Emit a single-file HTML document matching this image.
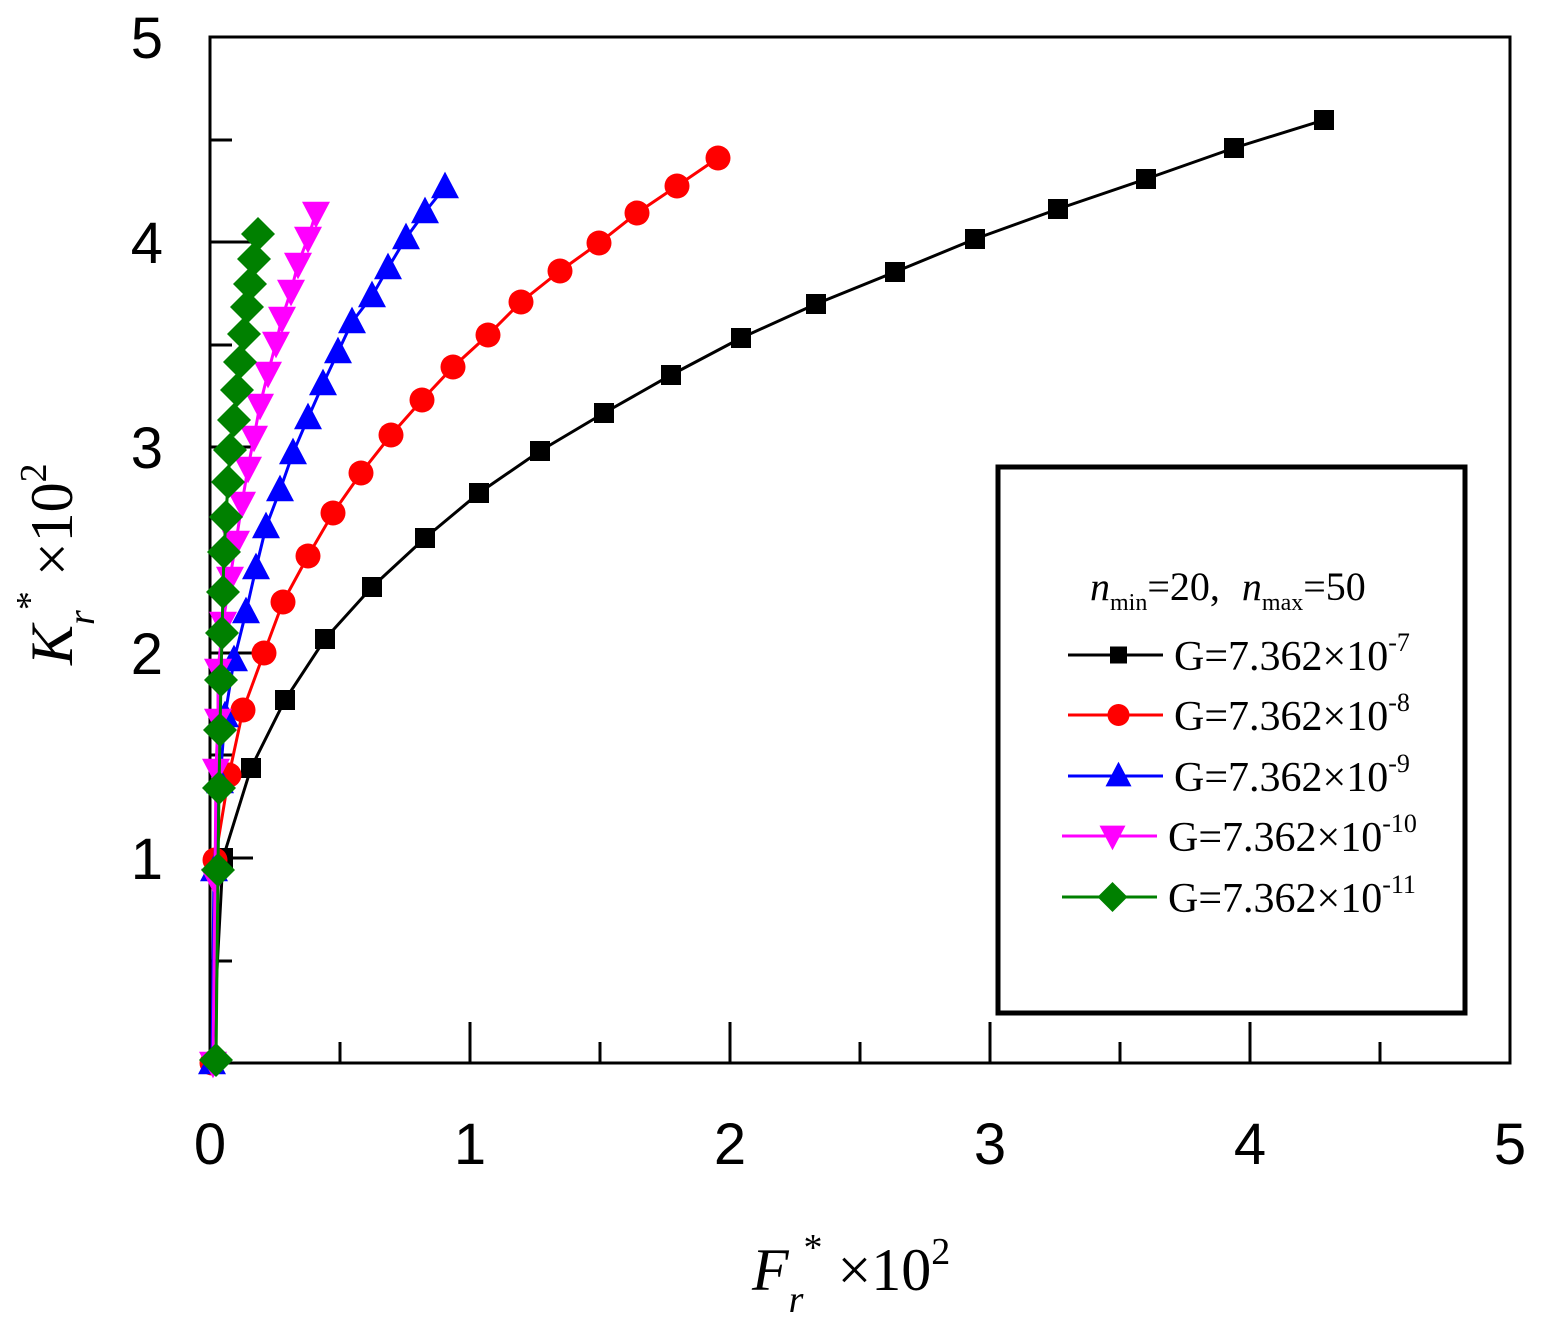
<!DOCTYPE html>
<html><head><meta charset="utf-8"><style>
html,body{margin:0;padding:0;background:#fff}
svg{display:block}
text{font-family:"Liberation Serif",serif}
.ax text{font-family:"Liberation Sans",sans-serif;font-size:58px}
</style></head><body>
<svg id="s" width="1550" height="1326" viewBox="0 0 1550 1326" xmlns="http://www.w3.org/2000/svg">
<rect x="210" y="37" width="1300" height="1026" fill="none" stroke="#000" stroke-width="3"/>
<g stroke="#000" stroke-width="3">
<line x1="470" y1="1063" x2="470" y2="1022"/><line x1="730" y1="1063" x2="730" y2="1022"/><line x1="990" y1="1063" x2="990" y2="1022"/><line x1="1250" y1="1063" x2="1250" y2="1022"/>
<line x1="340" y1="1063" x2="340" y2="1042"/><line x1="600" y1="1063" x2="600" y2="1042"/><line x1="860" y1="1063" x2="860" y2="1042"/><line x1="1120" y1="1063" x2="1120" y2="1042"/><line x1="1380" y1="1063" x2="1380" y2="1042"/>
<line x1="210" y1="858" x2="253" y2="858"/><line x1="210" y1="653" x2="253" y2="653"/><line x1="210" y1="447" x2="253" y2="447"/><line x1="210" y1="242" x2="253" y2="242"/>
<line x1="210" y1="961" x2="232" y2="961"/><line x1="210" y1="755" x2="232" y2="755"/><line x1="210" y1="550" x2="232" y2="550"/><line x1="210" y1="345" x2="232" y2="345"/><line x1="210" y1="140" x2="232" y2="140"/>
</g>
<g class="ax" text-anchor="middle">
<text x="210" y="1164">0</text><text x="470" y="1164">1</text><text x="730" y="1164">2</text><text x="990" y="1164">3</text><text x="1250" y="1164">4</text><text x="1510" y="1164">5</text>
</g>
<g class="ax" text-anchor="end">
<text x="163" y="879">1</text><text x="163" y="674">2</text><text x="163" y="468">3</text><text x="163" y="263">4</text><text x="163" y="58">5</text>
</g>
<text x="752" y="1290" font-size="60"><tspan font-style="italic">F</tspan><tspan font-style="italic" font-size="38" dy="22">r</tspan><tspan font-size="38" dy="-52">*</tspan><tspan font-size="60" dy="30"> ×10</tspan><tspan font-size="38" dy="-26">2</tspan></text>
<text transform="translate(72,665) rotate(-90)" font-size="60"><tspan font-style="italic">K</tspan><tspan font-style="italic" font-size="38" dy="22">r</tspan><tspan font-size="38" dy="-52">*</tspan><tspan font-size="60" dy="30"> ×10</tspan><tspan font-size="38" dy="-26">2</tspan></text>
<g id="data"></g>
<rect x="998" y="467" width="467" height="546" fill="#fff" stroke="#000" stroke-width="5"/>
<text x="1090" y="600" font-size="40"><tspan font-style="italic">n</tspan><tspan font-size="24" dy="10">min</tspan><tspan dy="-10">=20,</tspan><tspan dx="22" font-style="italic">n</tspan><tspan font-size="24" dy="10">max</tspan><tspan dy="-10">=50</tspan></text>
<g id="leg"></g>
</svg>
<script>
var NS="http://www.w3.org/2000/svg";
function el(p,t,a){var e=document.createElementNS(NS,t);for(var k in a)e.setAttribute(k,a[k]);p.appendChild(e);return e;}
function marker(p,type,x,y,c,s){
 if(type=="sq")el(p,"rect",{x:x-s/2,y:y-s/2,width:s,height:s,fill:c});
 else if(type=="ci")el(p,"circle",{cx:x,cy:y,r:s/2,fill:c});
 else if(type=="up")el(p,"polygon",{points:(x)+","+(y-s*0.55)+" "+(x-s/2)+","+(y+s*0.4)+" "+(x+s/2)+","+(y+s*0.4),fill:c});
 else if(type=="dn")el(p,"polygon",{points:(x)+","+(y+s*0.55)+" "+(x-s/2)+","+(y-s*0.4)+" "+(x+s/2)+","+(y-s*0.4),fill:c});
 else if(type=="di")el(p,"polygon",{points:x+","+(y-s/2)+" "+(x+s/2)+","+y+" "+x+","+(y+s/2)+" "+(x-s/2)+","+y,fill:c});
}
var S=[
{c:"#000",t:"sq",s:20,p:[[212,1063],[223,858],[251,768],[285,700],[325,639],[372,587],[425,538],[479,493],[540,451],[604,413],[671,375],[741,338],[816,304],[895,272],[975,239],[1058,209],[1146,179],[1234,148],[1324,120]]},
{c:"#f00",t:"ci",s:25,p:[[212,1063],[215,860],[229,775],[243,710],[264,653],[283,602],[308,556],[333,513],[361,473],[391,435],[422,400],[453,367],[488,335],[521,302],[560,271],[599,243],[637,213],[677,186],[718,158]]},
{c:"#00f",t:"up",s:28,p:[[212,1063],[214,870],[220,782],[225,716],[234,660],[246,612],[256,568],[266,527],[280,490],[293,453],[308,418],[323,384],[338,352],[352,322],[372,296],[388,268],[406,238],[425,212],[445,187]]},
{c:"#f0f",t:"dn",s:28,p:[[213,1063],[215,880],[216,770],[218,720],[218,670],[223,623],[230,578],[236,542],[242,503],[248,468],[254,437],[260,405],[268,373],[276,343],[282,318],[291,291],[298,264],[308,238],[316,213]]},
{c:"#008000",t:"di",s:34,p:[[216,1060],[218,870],[219,788],[220,730],[221,680],[222,633],[223,592],[224,552],[226,517],[228,482],[230,450],[234,420],[237,390],[240,362],[244,334],[247,307],[250,284],[254,259],[258,234]]}
];
var g=document.getElementById("data");
S.forEach(function(s){
 el(g,"polyline",{points:s.p.map(function(q){return q.join(",")}).join(" "),fill:"none",stroke:s.c,"stroke-width":3});
 s.p.forEach(function(q){marker(g,s.t,q[0],q[1],s.c,s.s);});
});
var L=document.getElementById("leg");
var ly=[655,715,776,836,897],ex=["-7","-8","-9","-10","-11"],lsz=[17,22,26,26,30];
S.forEach(function(s,i){
 var x1=i<3?1068:1062,x2=i<3?1163:1157,mx=(x1+x2)/2+3;
 el(L,"line",{x1:x1,y1:ly[i],x2:x2,y2:ly[i],stroke:s.c,"stroke-width":3});
 marker(L,s.t,mx,ly[i],s.c,lsz[i]);
 var t=el(L,"text",{x:i<3?1174:1168,y:ly[i]+15,"font-size":42});
 t.textContent="G=7.362×10";
 var ts=el(t,"tspan",{"font-size":26,dy:-19});ts.textContent=ex[i];
});
</script>
</body></html>
